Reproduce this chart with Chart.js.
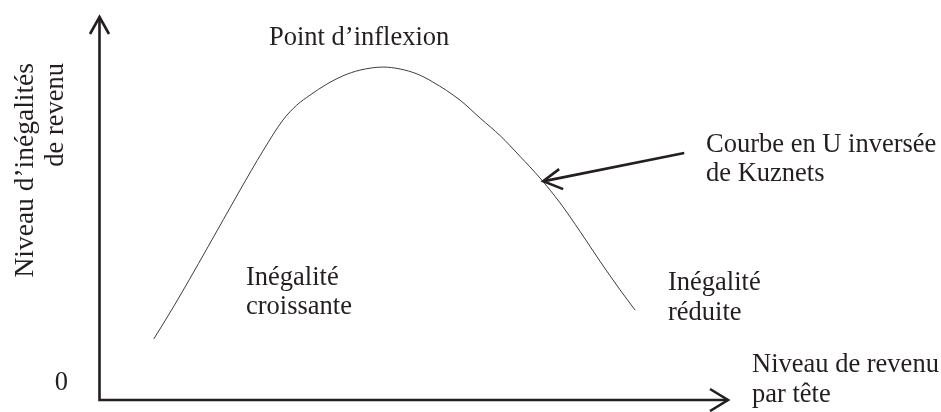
<!DOCTYPE html>
<html lang="fr">
<head>
<meta charset="utf-8">
<title>Courbe de Kuznets</title>
<script src="https://cdn.jsdelivr.net/npm/chart.js@4.4.1/dist/chart.umd.min.js"></script>
<style>
  html, body { margin: 0; padding: 0; background: #fff; }
  #wrap { width: 941px; height: 412px; }
</style>
</head>
<body>
<div id="wrap"><canvas id="myChart" width="941" height="412"></canvas></div>
<script>
// curve (x = revenu par tête, y = inégalités), 0..100 scale
const incomeLevel = [8.7, 11.8, 17.1, 22.4, 26.0, 29.2, 31.4, 33.5, 36.2, 38.7, 41.4, 45.1, 47.8, 50.5, 53.0, 57.3, 60.5, 63.7, 66.8, 70.0, 73.2, 76.4, 79.5, 82.7, 85.1];
const inequality  = [15.9, 24.2, 39.3, 54.7, 64.8, 72.9, 76.8, 79.4, 82.3, 84.4, 85.9, 86.7, 86.2, 84.9, 82.8, 78.1, 73.4, 68.8, 63.5, 57.8, 51.3, 43.8, 36.2, 28.7, 23.4];

// texts
const yTitle = ['Niveau d\u2019inégalités', 'de revenu'];
const xTitle = ['Niveau de revenu', 'par tête'];
const originLabel = '0';
const peakLabel = 'Point d\u2019inflexion';
const risingLabel = ['Inégalité', 'croissante'];
const fallingLabel = ['Inégalité', 'réduite'];
const curveLabel = ['Courbe en U inversée', 'de Kuznets'];

// where the Kuznets arrow points (on the curve) and where it starts
const arrowTip = { x: 70.5, y: 57.0 };
const arrowTail = { x: 92.9, y: 64.3 };

const points = incomeLevel.map((x, i) => ({ x: x, y: inequality[i] }));

const ink = '#231f20';
const serif = '"Liberation Serif", "Times New Roman", serif';
const font = '26.5px ' + serif;

function chevron(ctx, tip, a, b) {
    ctx.beginPath();
    ctx.moveTo(a[0], a[1]);
    ctx.lineTo(tip[0], tip[1]);
    ctx.lineTo(b[0], b[1]);
    ctx.stroke();
}

function lines(ctx, arr, x, y, step) {
    arr.forEach((t, i) => ctx.fillText(t, x, y + i * step));
}

const kuznetsDecor = {
    id: 'kuznetsDecor',
    afterDraw(chart) {
        const ctx = chart.ctx;
        const area = chart.chartArea;
        const xs = chart.scales.x, ys = chart.scales.y;
        ctx.save();
        ctx.strokeStyle = ink;
        ctx.fillStyle = ink;
        ctx.lineWidth = 2.6;
        ctx.lineCap = 'butt';
        ctx.lineJoin = 'miter';

        // axes
        const ox = area.left + 0.5, oy = area.bottom;
        ctx.beginPath();
        ctx.moveTo(ox, oy + 1.3);
        ctx.lineTo(ox, area.top + 1);
        ctx.moveTo(ox - 1.3, oy);
        ctx.lineTo(area.right - 1, oy);
        ctx.stroke();
        chevron(ctx, [ox, area.top + 1], [ox - 9.5, area.top + 18], [ox + 9.5, area.top + 18]);
        chevron(ctx, [area.right - 1, oy], [area.right - 19, oy - 11], [area.right - 19, oy + 11]);

        // arrow to the curve
        const tx = xs.getPixelForValue(arrowTip.x), ty = ys.getPixelForValue(arrowTip.y);
        const sx = xs.getPixelForValue(arrowTail.x), sy = ys.getPixelForValue(arrowTail.y);
        ctx.beginPath();
        ctx.moveTo(sx, sy);
        ctx.lineTo(tx + 1, ty);
        ctx.stroke();
        chevron(ctx, [tx, ty], [tx + 16, ty - 12], [tx + 20, ty + 8]);

        // texts
        ctx.font = font;
        ctx.textBaseline = 'alphabetic';
        ctx.textAlign = 'left';
        ctx.fillText(peakLabel, 269, 45);
        lines(ctx, risingLabel, 246, 285, 29);
        lines(ctx, fallingLabel, 668, 290, 30);
        lines(ctx, curveLabel, 706, 152, 29);
        lines(ctx, xTitle, 752, 372, 30);
        ctx.textAlign = 'right';
        ctx.fillText(originLabel, 68, 390);

        // rotated y title, both lines end at the top
        ctx.save();
        ctx.translate(33, 63);
        ctx.rotate(-Math.PI / 2);
        ctx.textAlign = 'right';
        ctx.font = '27.5px ' + serif;
        ctx.fillText(yTitle[0], 0, 0);
        ctx.font = '26.5px ' + serif;
        ctx.fillText(yTitle[1], 0, 30);
        ctx.restore();

        ctx.restore();
    }
};

const ctx = document.getElementById('myChart').getContext('2d');
const kuznetsChart = new Chart(ctx, {
    type: 'scatter',
    data: {
        datasets: [{
            label: 'Courbe de Kuznets',
            data: points,
            showLine: true,
            borderColor: '#3c3c3c',
            borderWidth: 1,
            pointRadius: 0,
            cubicInterpolationMode: 'monotone',
            fill: false
        }]
    },
    options: {
        responsive: false,
        animation: false,
        devicePixelRatio: 1,
        layout: { padding: { left: 99, right: 212, top: 16, bottom: 12 } },
        plugins: {
            legend: { display: false },
            tooltip: { enabled: false }
        },
        scales: {
            x: { type: 'linear', min: 0, max: 100, display: false },
            y: { type: 'linear', min: 0, max: 100, display: false }
        }
    },
    plugins: [kuznetsDecor]
});
</script>
</body>
</html>
